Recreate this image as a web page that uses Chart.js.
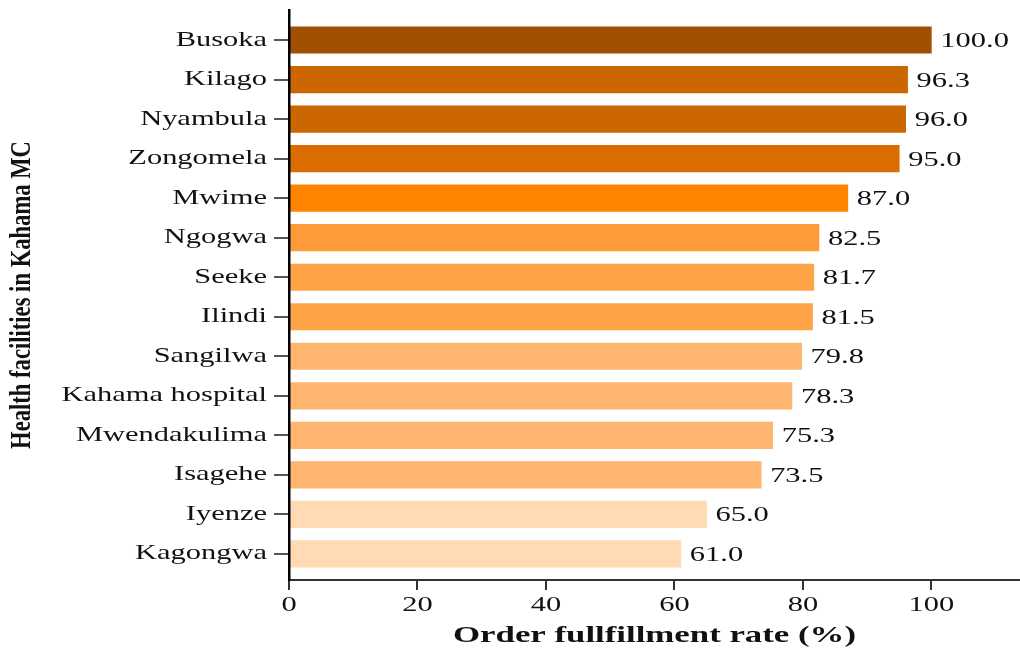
<!DOCTYPE html>
<html>
<head>
<meta charset="utf-8">
<title>Order fullfillment rate by health facility</title>
<script src="https://cdn.jsdelivr.net/npm/chart.js@4.4.1/dist/chart.umd.min.js"></script>
<style>
  html, body { margin: 0; padding: 0; background: #ffffff; }
  #wrap { width: 1020px; height: 650px; }
</style>
</head>
<body>
<div id="wrap"><canvas id="chart" width="1020" height="650"></canvas></div>
<script>
// Health facilities in Kahama MC, top to bottom
const facilities = [
  'Busoka', 'Kilago', 'Nyambula', 'Zongomela', 'Mwime', 'Ngogwa', 'Seeke',
  'Ilindi', 'Sangilwa', 'Kahama hospital', 'Mwendakulima', 'Isagehe',
  'Iyenze', 'Kagongwa'
];

// Order fullfillment rate (%)
const fulfillmentRate = [
  100.0, 96.3, 96.0, 95.0, 87.0, 82.5, 81.7,
  81.5, 79.8, 78.3, 75.3, 73.5, 65.0, 61.0
];

// Bar fill, darker for the higher rates
const barColors = [
  '#A05000', '#CC6600', '#CC6600', '#DB6D00', '#FF8500', '#FF9A38', '#FFA347',
  '#FFA347', '#FDB56F', '#FDB56F', '#FDB56F', '#FDB56F', '#FFDAB3', '#FFDAB3'
];

// Value axis ticks
const xTickValues = [0, 20, 40, 60, 80, 100];

const SERIF = '"Liberation Serif", "Times New Roman", serif';
const WIDE = 1.45;     // horizontal stretch of labels and values
const NARROW = 0.78;   // the vertical axis title is set condensed

// Let the canvas draw text with a horizontal stretch factor.
function enableTextStretch(ctx) {
  const fill = ctx.fillText.bind(ctx);
  const measure = ctx.measureText.bind(ctx);
  ctx.textStretch = 1;
  ctx.fillText = function (text, x, y, maxWidth) {
    const s = ctx.textStretch;
    ctx.save();
    ctx.translate(x, y);
    ctx.scale(s, 1);
    if (maxWidth === undefined || maxWidth === null) fill(text, 0, 0);
    else fill(text, 0, 0, maxWidth / s);
    ctx.restore();
  };
  ctx.measureText = function (text) {
    const m = measure(text);
    return {
      width: m.width * ctx.textStretch,
      actualBoundingBoxAscent: m.actualBoundingBoxAscent,
      actualBoundingBoxDescent: m.actualBoundingBoxDescent,
      actualBoundingBoxLeft: m.actualBoundingBoxLeft * ctx.textStretch,
      actualBoundingBoxRight: m.actualBoundingBoxRight * ctx.textStretch
    };
  };
}

const stretchPlugin = {
  id: 'stretch',
  beforeInit(chart) { enableTextStretch(chart.ctx); chart.ctx.textStretch = WIDE; },
  beforeLayout(chart) { chart.ctx.textStretch = WIDE; },
  beforeDraw(chart) { chart.ctx.textStretch = WIDE; },
  afterDatasetsDraw(chart) {
    const ctx = chart.ctx;
    const meta = chart.getDatasetMeta(0);
    ctx.save();
    ctx.font = '21px ' + SERIF;
    ctx.fillStyle = '#111111';
    ctx.textAlign = 'left';
    ctx.textBaseline = 'alphabetic';
    meta.data.forEach((bar, i) => {
      ctx.fillText(fulfillmentRate[i].toFixed(1), bar.x + 9, bar.y + 7);
    });
    ctx.restore();
    // the y title is drawn after this hook
    ctx.textStretch = NARROW;
  },
  afterDraw(chart) { chart.ctx.textStretch = WIDE; }
};

function noEdgePadding(scale) {
  scale.paddingTop = 0;
  scale.paddingBottom = 0;
  scale.paddingLeft = 0;
  scale.paddingRight = 0;
}

const points = fulfillmentRate.map((v, i) => ({ x: v, y: i }));

new Chart(document.getElementById('chart'), {
  type: 'bar',
  data: {
    datasets: [{
      data: points,
      backgroundColor: barColors,
      borderWidth: 0,
      barThickness: 26.5
    }]
  },
  options: {
    indexAxis: 'y',
    responsive: false,
    animation: false,
    devicePixelRatio: 1,
    layout: { padding: { top: 10, left: 0, right: 0, bottom: 0 } },
    plugins: {
      legend: { display: false },
      tooltip: { enabled: false }
    },
    scales: {
      x: {
        type: 'linear',
        position: 'bottom',
        min: 0,
        max: 113.8,
        afterBuildTicks(scale) { scale.ticks = xTickValues.map(v => ({ value: v })); },
        afterFit(scale) { scale.height = 70; noEdgePadding(scale); },
        grid: {
          drawOnChartArea: false,
          drawTicks: true,
          tickLength: 10,
          tickColor: '#333333',
          tickWidth: 2,
          lineWidth: 2
        },
        border: { display: true, color: '#333333', width: 2 },
        ticks: {
          autoSkip: false,
          maxRotation: 0,
          padding: 3,
          color: '#111111',
          font: { family: SERIF, size: 21 }
        },
        title: {
          display: true,
          text: 'Order fullfillment rate (%)',
          color: '#111111',
          font: { family: SERIF, size: 24, weight: 'bold' },
          padding: { top: 0, bottom: 0 }
        }
      },
      y: {
        type: 'linear',
        position: 'left',
        reverse: true,
        offset: false,
        min: -0.76,
        max: 13.66,
        afterBuildTicks(scale) { scale.ticks = facilities.map((_, i) => ({ value: i })); },
        afterFit(scale) { scale.width = 289; noEdgePadding(scale); },
        grid: {
          z: 1,
          offset: false,
          drawOnChartArea: false,
          drawTicks: true,
          tickLength: 15,
          tickColor: '#555555',
          tickWidth: 2,
          lineWidth: 2
        },
        border: { display: true, color: '#000000', width: 2.5, z: 1 },
        ticks: {
          autoSkip: false,
          padding: 7,
          color: '#111111',
          font: { family: SERIF, size: 21 },
          callback: (v) => facilities[v]
        },
        title: {
          display: true,
          text: 'Health facilities in Kahama MC',
          color: '#111111',
          font: { family: SERIF, size: 29, weight: 'bold' },
          padding: { top: 5, bottom: 0 }
        }
      }
    }
  },
  plugins: [stretchPlugin]
});
</script>
</body>
</html>
